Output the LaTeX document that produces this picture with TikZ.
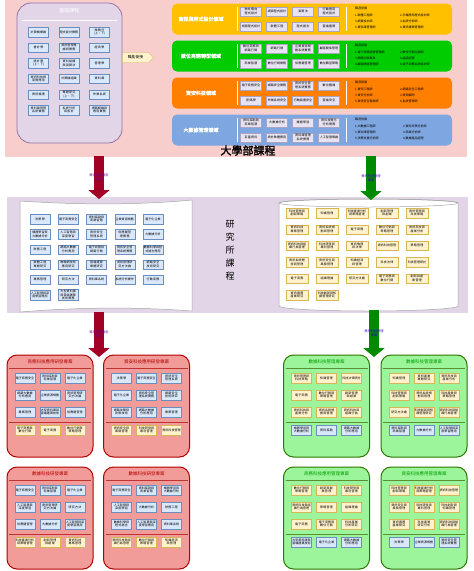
\documentclass[tikz,border=0pt]{standalone}
\usepackage{fontspec}
\setmainfont{Noto Sans CJK TC}[AutoFakeBold=2]
\XeTeXlinebreaklocale "zh"
\XeTeXlinebreakskip=0pt plus 0.5pt
\usetikzlibrary{arrows.meta, shapes.arrows}
\definecolor{pinkbg}{HTML}{F8CECC}
\definecolor{lavbg}{HTML}{E1D5E7}
\definecolor{lavline}{HTML}{9673A6}
\definecolor{bluefill}{HTML}{DAE8FC}
\definecolor{blueline}{HTML}{6C8EBF}
\definecolor{yelfill}{HTML}{FFF2CC}
\definecolor{yelline}{HTML}{D6B656}
\definecolor{domyel}{HTML}{FFC000}
\definecolor{domgrn}{HTML}{00CC00}
\definecolor{domorg}{HTML}{FF8000}
\definecolor{domblu}{HTML}{7EA6E0}
\definecolor{crsfill}{HTML}{E8E3F0}
\definecolor{crsline}{HTML}{A9A3C4}
\definecolor{arrred}{HTML}{A20025}
\definecolor{arrgrn}{HTML}{008A00}
\definecolor{grpred}{HTML}{F19C99}
\definecolor{grpredline}{HTML}{B20000}
\definecolor{grpgrn}{HTML}{9CF59A}
\definecolor{grpgrnline}{HTML}{2D7600}

% one project panel: name, centre x, top y, red/green, title, nine courses, three courses
\newcommand{\projgroup}[7]{%
  \node[#4panel] (#1) at (#2,#3+51) {};
  \node[#4title] (#1t) at (#2,#3+7) {#5};
  \draw[#4sep] (#2-41,#3+13) -- (#2+41,#3+13);
  \foreach \crs [count=\i from 0] in {#6}{%
    \pgfmathtruncatemacro{\pcol}{mod(\i,3)}%
    \pgfmathtruncatemacro{\prow}{div(\i,3)}%
    \node[#4up] (#1u\i) at ({#2-25+25*\pcol},{#3+23+17*\prow}) {\crs};}
  \draw[#4sep] (#2-41,#3+67) -- (#2+41,#3+67);
  \foreach \crs [count=\i from 0] in {#7}{%
    \node[#4low] (#1l\i) at ({#2-25+25*\i},{#3+75}) {\crs};}
}

\begin{document}
\begin{tikzpicture}[
    x=1pt, y=-1pt,
    font=\fontsize{3}{3.6}\selectfont,
    bluebox/.style={draw=blueline, fill=bluefill, line width=0.3pt,
                    minimum width=20pt, minimum height=9.5pt, text width=18.5pt,
                    align=center, inner sep=0.5pt},
    yelbox/.style={bluebox, draw=yelline, fill=yelfill},
    crsbox/.style={bluebox, draw=crsline, fill=crsfill, minimum width=21pt,
                   text width=19.5pt},
    band/.style={fill=#1, rounded corners=5pt, minimum width=280pt,
                 minimum height=31pt, inner sep=0pt},
    career/.style={align=left, font=\fontsize{3}{6.3}\selectfont, inner sep=0pt,
                   anchor=west},
    bigarrow/.style={draw=#1, line width=10pt,
                     -{Triangle[length=9pt, width=21pt]}},
    arrlabel/.style={text=#1, align=center, font=\fontsize{3.2}{4}\selectfont},
    redpanel/.style={draw=grpredline, fill=grpred, line width=1pt,
                     rounded corners=10pt, minimum width=86pt, minimum height=102pt},
    greenpanel/.style={redpanel, draw=grpgrnline, fill=grpgrn},
    redtitle/.style={text=grpredline, font=\fontsize{4.5}{5}\selectfont},
    greentitle/.style={text=green!60!black, font=\fontsize{4.5}{5}\selectfont},
    redsep/.style={draw=grpredline!80, line width=0.4pt},
    greensep/.style={draw=grpgrnline!80, line width=0.4pt},
    redup/.style={bluebox},
    redlow/.style={yelbox},
    greenup/.style={yelbox},
    greenlow/.style={bluebox},
  ]
  \useasboundingbox (0,0) rectangle (474,571);

  % ---------- undergraduate ----------
  \node[fill=pinkbg, minimum width=462pt, minimum height=157pt, inner sep=0pt]
    (ugrad) at (236,78.5) {};
  \node[draw=lavline, fill=lavbg, line width=0.8pt, rounded corners=14pt,
        minimum width=105pt, minimum height=140pt] (found) at (69.5,73) {};
  \node[text=white, font=\fontsize{5}{6}\selectfont] (foundt) at (69.5,11) {基礎課程};
  \draw[white, line width=0.6pt] (22,20) -- (117,20);
  \foreach \crs [count=\i from 0] in {計算機概論, 程式設計實務, {微積分(上、下)},
      會計學, 資訊管理導論與實務, 經濟學,
      {統計學(上、下)}, 資料結構與演算法, 管理學,
      資訊科技與商務應用, 計算機組織, 資料庫,
      資訊倫理, {專題研究(上、下)}, 作業系統,
      資料庫管理系統實務, 系統分析與設計, 網路概論與應用實務}{
    \pgfmathtruncatemacro{\pcol}{mod(\i,3)}
    \pgfmathtruncatemacro{\prow}{div(\i,3)}
    \node[bluebox] (f\i) at ({38.5+30.5*\pcol},{32+15.6*\prow}) {\crs};
  }
  \node[single arrow, single arrow head extend=0pt, fill=yelfill, draw=yelline,
        line width=0.3pt, minimum height=31pt, minimum width=10pt, inner sep=0.5pt,
        font=\fontsize{3.8}{4}\selectfont] (bridge) at (135.5,57.5) {職能銜接};

  \foreach \dc/\dfill/\dname [count=\k] in {19/domyel/資訊與程式設計領域,
      56/domgrn/數位商務轉型領域, 93/domorg/資安科技領域, 130/domblu/大數據管理領域}{
    \node[band=\dfill] (dom\k) at (312,\dc) {};
    \node[text=white, font=\fontsize{5}{6}\selectfont\bfseries] (dom\k t) at (201,\dc) {\dname};
    \draw[white, line width=0.6pt] (237,\dc-12) -- (237,\dc+12);
    \draw[white, line width=0.6pt] (346,\dc-12) -- (346,\dc+12);
  }
  \foreach \crs [count=\i from 0] in {物件導向程式設計, 網頁程式設計, 演算法, 行動應用程式設計,
      視窗程式設計, 軟體工程, 程式語言, 雲端運算}{
    \pgfmathtruncatemacro{\pcol}{mod(\i,4)}
    \pgfmathtruncatemacro{\prow}{div(\i,4)}
    \node[crsbox] (da\i) at ({251+26*\pcol},{11.5+15*\prow}) {\crs};
  }
  \foreach \crs [count=\i from 0] in {數位商務與網路行銷, 網路行銷, 企業資源規劃系統實務, 顧客關係管理,
      商業智慧, 數位行銷實務, 供應鏈管理, 數位轉型策略}{
    \pgfmathtruncatemacro{\pcol}{mod(\i,4)}
    \pgfmathtruncatemacro{\prow}{div(\i,4)}
    \node[crsbox] (db\i) at ({251+26*\pcol},{48.5+15*\prow}) {\crs};
  }
  \foreach \crs [count=\i from 0] in {電子商務安全, 網路安全實務, 資訊安全管理系統實務, 數位鑑識,
      密碼學, 作業系統安全, 行動裝置安全, 雲端安全}{
    \pgfmathtruncatemacro{\pcol}{mod(\i,4)}
    \pgfmathtruncatemacro{\prow}{div(\i,4)}
    \node[crsbox] (dc\i) at ({251+26*\pcol},{85.5+15*\prow}) {\crs};
  }
  \foreach \crs [count=\i from 0] in {資料探勘與商業智慧, 大數據分析, 機器學習, 資料視覺化分析實務,
      巨量資料, 統計軟體應用, 資料庫管理系統實務, 人工智慧導論}{
    \pgfmathtruncatemacro{\pcol}{mod(\i,4)}
    \pgfmathtruncatemacro{\prow}{div(\i,4)}
    \node[crsbox] (dd\i) at ({251+26*\pcol},{122.5+15*\prow}) {\crs};
  }
  \node[career] (car1a) at (355,18.3) {職涯發展\\1.軟體工程師\\3.網頁設計師\\5.資料庫管理師};
  \node[career] (car1b) at (400,21.5) {2.手機應用程式設計師\\4.系統分析師\\6.資訊專案管理師};
  \node[career] (car2a) at (355,55.3) {職涯發展\\1.電子商務經營管理師\\3.網路行銷專員\\5.顧客關係管理師};
  \node[career] (car2b) at (400,58.5) {2.數位行銷企劃師\\4.產品經理\\6.電子商務系統設計師};
  \node[career] (car3a) at (355,92.3) {職涯發展\\1.資安工程師\\3.資安分析師\\5.資訊安全稽核師};
  \node[career] (car3b) at (400,95.5) {2.網路安全工程師\\4.資安顧問\\6.系統管理師};
  \node[career] (car4a) at (355,129.3) {職涯發展\\1.大數據工程師\\3.資料庫管理師\\5.決策支援分析師};
  \node[career] (car4b) at (403,132.5) {2.資料科學分析師\\4.商業分析師\\6.數據產品經理};
  \node[font=\fontsize{11}{11}\selectfont\bfseries] (uglbl) at (248,150.5) {大學部課程};

  % ---------- graduate ----------
  \node[fill=lavbg, minimum width=461pt, minimum height=116pt, inner sep=0pt]
    (grad) at (237.5,255) {};
  \draw[fill=white, draw=gray!70, line width=0.5pt]
    (20,201) .. controls (80,205) and (140,205) .. (192,200) -- (192,311)
    .. controls (140,307) and (80,307) .. (20,312) -- cycle;
  \draw[fill=white, draw=gray!70, line width=0.5pt]
    (279,203) -- (279,306) arc[start angle=180, end angle=360, x radius=89.5pt, y radius=5pt]
    -- (458,203) arc[start angle=0, end angle=180, x radius=89.5pt, y radius=4pt] -- cycle;
  \draw[draw=gray!70, line width=0.5pt] (368.5,203) ellipse [x radius=89.5pt, y radius=4pt];
  \node[font=\fontsize{9}{13}\selectfont, align=center] (gradlbl) at (230,250)
    {研\\究\\所\\課\\程};
  \foreach \crs [count=\i from 0] in {決策學, 電子商務安全, 資料探勘與商業智慧, 企業資源規劃, 電子化企業,
      機器學習與大數據分析, 人工智慧與深度學習, 資訊安全管理系統, 供應鏈管理實務, 大數據分析,
      財務工程, 網路大數據分析應用, 電子商務與網路行銷, 資訊安全管理系統實務, 數據科學與程式語言應用,
      軟體工程專題研究, 物聯網技術應用研究, 雲端運算專題研究, 資訊管理研究方法論, 網路安全技術研究,
      專案管理, 研究方法, 資料庫系統, 系統分析實作, 行動商務,
      人工智慧與深度學習應用, 大型資料庫與雲端運算技術實務}{
    \pgfmathtruncatemacro{\pcol}{mod(\i,5)}
    \pgfmathtruncatemacro{\prow}{div(\i,5)}
    \node[bluebox] (g\i) at ({40+28.25*\pcol},{219+15.2*\prow}) {\crs};
  }
  \foreach \crs [count=\i from 0] in {科技管理與創新策略, 知識管理, 科技產業分析與策略管理, 創新管理與創業, 資訊管理與科技策略,
      資訊科技專案管理, 資訊系統規劃與管理, 電子商務, 數位行銷與策略管理, 資訊科技與產業分析,
      資訊科技與組織行為管理, 科技研發與專利管理, 資訊倫理與法律, 資訊科技管理, 策略管理,
      資訊系統開發與管理, 資訊安全與風險管理, 知識經濟與管理, 科技法律, 科技管理研討,
      電子商務, 組織理論, 研究方法論, 電子商務與數位行銷, 創新與創業管理,
      資訊服務產業研究, 科技創新與知識管理研究}{
    \pgfmathtruncatemacro{\pcol}{mod(\i,5)}
    \pgfmathtruncatemacro{\prow}{div(\i,5)}
    \node[yelbox, minimum width=22pt, text width=20.5pt] (m\i) at ({297+30*\pcol},{213+16.4*\prow}) {\crs};
  }

  % ---------- arrows ----------
  \coordinate (ra1) at (99,156);
  \coordinate (ra2) at (99,199);
  \coordinate (ga1) at (371,156);
  \coordinate (ga2) at (371,200);
  \coordinate (rb1) at (99,312);
  \coordinate (rb2) at (99,357);
  \coordinate (gb1) at (374,310);
  \coordinate (gb2) at (374,357);
  \draw[bigarrow=arrred] (ra1) -- (ra2)
    node[midway, arrlabel=violet!80!blue] {資訊科技應用\\研發};
  \draw[bigarrow=arrgrn] (ga1) -- (ga2)
    node[midway, arrlabel=blue!60!violet] {資訊科技管理\\策略};
  \draw[bigarrow=arrred] (rb1) -- (rb2)
    node[midway, arrlabel=violet!80!blue] {資訊科技應用\\研發};
  \draw[bigarrow=arrgrn] (gb1) -- (gb2)
    node[midway, arrlabel=blue!60!violet] {資訊科技管理\\策略};

  % ---------- project panels ----------
  \projgroup{pa}{50}{355}{red}{商務科技應用研發專案}
    {電子商務安全, 資料探勘與商業智慧, 電子化企業, 網路大數據分析應用, 企業資源規劃,
     資訊管理研究方法論, 專案管理, 大型資料庫與雲端運算技術, 供應鏈管理}
    {電子商務與數位行銷, 電子商務, 數位行銷與策略管理}
  \projgroup{pb}{146.5}{355}{red}{資安科技應用研發專案}
    {決策學, 電子商務安全, 資訊安全管理系統, 電子化企業, 資訊安全管理系統實務,
     網路安全技術研究, 網路攻擊與防禦技術, 網路大數據分析應用, 專案管理}
    {資訊安全與風險管理, 科技研發與專利管理, 資訊科技管理}
  \projgroup{pc}{326.5}{355}{green}{數據科技管理專案}
    {資訊管理與科技策略, 知識管理, 科技法律研討, 電子商務, 數位行銷與策略管理,
     創新管理與創業, 資訊科技與產業分析, 資訊系統規劃與管理, 資訊科技與組織行為}
    {機器學習與大數據分析, 資料探勘, 網路大數據分析應用}
  \projgroup{pd}{424}{355}{green}{數據科技管理專案}
    {知識管理, 資訊產業專題研究, 資訊科技與產業分析, 科技管理與創新策略, 資訊系統規劃與管理,
     科技產業與策略管理, 研究方法論, 科技創新與知識管理研究, 資訊科技與組織行為管理}
    {資料探勘與商業智慧, 大數據分析, 人工智慧與深度學習應用}
  \projgroup{pe}{50}{467}{red}{數據科技研發專案}
    {電子商務安全, 資料探勘與商業智慧, 電子化企業, 人工智慧與深度學習, 資訊管理研究方法論,
     研究方法, 供應鏈管理, 大數據分析, 人工智慧與深度學習應用}
    {科技產業分析與策略管理, 創新管理與創業, 資訊科技專案管理}
  \projgroup{pf}{146.5}{467}{red}{數據科技研發專案}
    {電子商務安全, 資料探勘與商業智慧, 機器學習與大數據分析, 人工智慧與深度學習, 大數據分析,
     財務工程, 數據科學與程式語言, 人工智慧與深度學習應用, 資料庫系統}
    {資訊科技與組織行為管理, 數位行銷與策略管理, 知識經濟與管理}
  \projgroup{pg}{326.5}{467}{green}{商務科技應用管理專案}
    {數位行銷與策略管理, 創新與創業管理, 科技研發與專利管理, 資訊科技與組織行為管理, 策略管理,
     組織理論, 電子商務, 電子商務與數位行銷, 科技產業分析研究}
    {大型資料庫與雲端運算技術, 電子化企業, 網路大數據分析應用}
  \projgroup{ph}{424}{467}{green}{資安科技應用管理專案}
    {科技管理與創新策略, 科技產業分析與策略管理, 資訊科技管理, 資訊安全與風險管理, 科技研發與專利管理,
     科技創新與知識管理, 資訊服務產業研究, 科技產業研究分析, 資訊科技與組織行為管理}
    {決策學, 企業資源規劃, 資訊安全管理系統實務}
\end{tikzpicture}
\end{document}
